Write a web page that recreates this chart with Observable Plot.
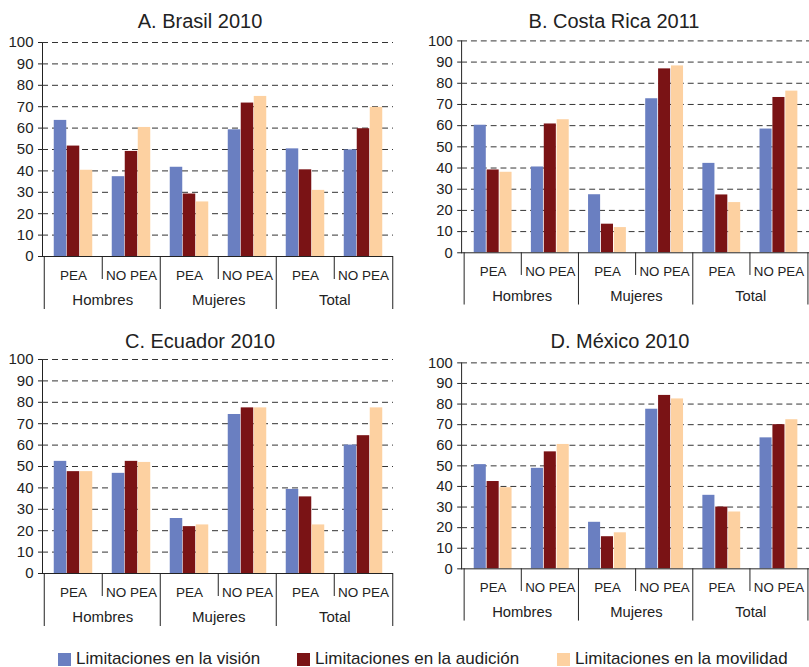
<!DOCTYPE html>
<html>
<head>
<meta charset="utf-8">
<script src="https://cdn.jsdelivr.net/npm/d3@7"></script>
<script src="https://cdn.jsdelivr.net/npm/@observablehq/plot@0.6"></script>
<style>
  body { margin: 0; background: #fff; }
  #page { position: relative; width: 809px; height: 667px; overflow: hidden;
          font-family: "Liberation Sans", Arial, sans-serif; color: #222; }
  .panel { position: absolute; }
  .panel svg { overflow: visible; }
  .title { position: absolute; font-size: 20px; line-height: 20px; white-space: nowrap; transform: translateX(-50%); }
  .key { position: absolute; width: 13px; height: 13px; }
  .lab { position: absolute; font-size: 17px; line-height: 17px; white-space: nowrap; }
</style>
</head>
<body>
<div id="page"></div>
<script>
// categorias del eje x
const groups = ["Hombres", "Mujeres", "Total"];
const conds = ["PEA", "NO PEA"];
const series = ["Limitaciones en la visión", "Limitaciones en la audición", "Limitaciones en la movilidad"];
const colors = ["#6a7fc1", "#7a1315", "#fdd1a1"];

// valores (%), orden: Hombres PEA, Hombres NO PEA, Mujeres PEA, Mujeres NO PEA, Total PEA, Total NO PEA
const brasilVision    = [63.6, 37.3, 41.7, 59.2, 50.3, 49.8];
const brasilAudicion  = [51.6, 49.1, 29.2, 71.7, 40.5, 59.7];
const brasilMovilidad = [40.3, 60.3, 25.5, 74.8, 30.9, 69.7];

const costaVision    = [60.2, 40.5, 27.4, 72.7, 42.2, 58.4];
const costaAudicion  = [39.1, 60.8, 13.5, 86.8, 27.3, 73.3];
const costaMovilidad = [38.0, 62.8, 11.9, 88.2, 23.7, 76.3];

const ecuadorVision    = [52.4, 46.8, 25.7, 74.3, 39.3, 60.0];
const ecuadorAudicion  = [47.6, 52.4, 21.9, 77.4, 35.8, 64.4];
const ecuadorMovilidad = [47.6, 51.9, 22.7, 77.4, 22.7, 77.4];

const mexicoVision    = [50.6, 48.8, 22.6, 77.5, 35.7, 63.6];
const mexicoAudicion  = [42.4, 56.8, 15.6, 84.2, 30.0, 70.0];
const mexicoMovilidad = [39.4, 60.4, 17.5, 82.5, 27.6, 72.4];

const keys = groups.flatMap(g => conds.map(c => g + "|" + c));

const page = document.getElementById("page");

function panel(p) {
  const bw = (p.width - p.ml - p.mr) / keys.length;
  const pxPerUnit = (p.height - p.mt - p.mb) / 100;
  const below = px => -px / pxPerUnit;
  const keyRows = keys.map(k => ({key: k, group: k.split("|")[0], cond: k.split("|")[1]}));
  const firsts = keyRows.filter(d => d.cond == "PEA");
  const seconds = keyRows.filter(d => d.cond == "NO PEA");

  const bars = p.values.map((vals, i) =>
    Plot.barY(keys.map((k, j) => ({key: k, value: vals[j]})), {
      x: "key", y: "value", fill: colors[i],
      insetLeft: bw / 6 + i * 2 * bw / 9,
      insetRight: bw - bw / 6 - (i + 1) * 2 * bw / 9
    })
  );

  const chart = Plot.plot({
    width: p.width,
    height: p.height,
    marginTop: p.mt,
    marginBottom: p.mb,
    marginLeft: p.ml,
    marginRight: p.mr,
    x: {domain: keys, padding: 0, axis: null},
    y: {domain: [0, 100], ticks: 10, tickSize: 4, tickPadding: 5, line: true, label: null},
    style: {fontFamily: "Liberation Sans, Arial, sans-serif", fontSize: "15px", color: "#222", background: "transparent"},
    marks: [
      Plot.ruleY(d3.range(10, 101, 10), {stroke: "#333", strokeDasharray: "6,4"}),
      ...bars,
      Plot.ruleY([0], {stroke: "#222"}),
      // separadores del eje de categorias
      Plot.ruleX(firsts, {x: "key", dx: -bw / 2, y1: 0, y2: below(53), stroke: "#222"}),
      Plot.ruleX(seconds.slice(-1), {x: "key", dx: bw / 2, y1: 0, y2: below(53), stroke: "#222"}),
      Plot.ruleX(seconds, {x: "key", dx: -bw / 2, y1: 0, y2: below(23), stroke: "#222"}),
      Plot.text(keyRows, {x: "key", y: 0, text: "cond", dy: 19, fontSize: 13.5, fill: "#222"}),
      Plot.text(firsts, {x: "key", y: 0, text: "group", dx: bw / 2, dy: 44, fontSize: 15, fill: "#222"})
    ]
  });

  const div = document.createElement("div");
  div.className = "panel";
  div.style.left = p.left + "px";
  div.style.top = p.top + "px";
  div.appendChild(chart);
  page.appendChild(div);

  const t = document.createElement("div");
  t.className = "title";
  t.textContent = p.title;
  t.style.left = p.titleX + "px";
  t.style.top = p.titleTop + "px";
  page.appendChild(t);
}

panel({title: "A. Brasil 2010", values: [brasilVision, brasilAudicion, brasilMovilidad],
  left: 0, top: 0, width: 400, height: 315, mt: 42, mb: 59, ml: 42, mr: 7, titleX: 200, titleTop: 11});
panel({title: "B. Costa Rica 2011", values: [costaVision, costaAudicion, costaMovilidad],
  left: 400, top: 0, width: 415, height: 315, mt: 41, mb: 59, ml: 62, mr: 0, titleX: 614, titleTop: 11});
panel({title: "C. Ecuador 2010", values: [ecuadorVision, ecuadorAudicion, ecuadorMovilidad],
  left: 0, top: 320, width: 400, height: 320, mt: 39, mb: 67, ml: 42, mr: 7, titleX: 200, titleTop: 331});
panel({title: "D. México 2010", values: [mexicoVision, mexicoAudicion, mexicoMovilidad],
  left: 400, top: 320, width: 415, height: 320, mt: 43, mb: 68, ml: 62, mr: 0, titleX: 620, titleTop: 331});

// leyenda
const legendX = [58, 297, 557];
series.forEach((s, i) => {
  const k = document.createElement("div");
  k.className = "key";
  k.style.left = legendX[i] + "px";
  k.style.top = "653px";
  k.style.background = colors[i];
  page.appendChild(k);
  const l = document.createElement("div");
  l.className = "lab";
  l.textContent = s;
  l.style.left = (legendX[i] + 18) + "px";
  l.style.top = "650px";
  page.appendChild(l);
});
</script>
</body>
</html>
